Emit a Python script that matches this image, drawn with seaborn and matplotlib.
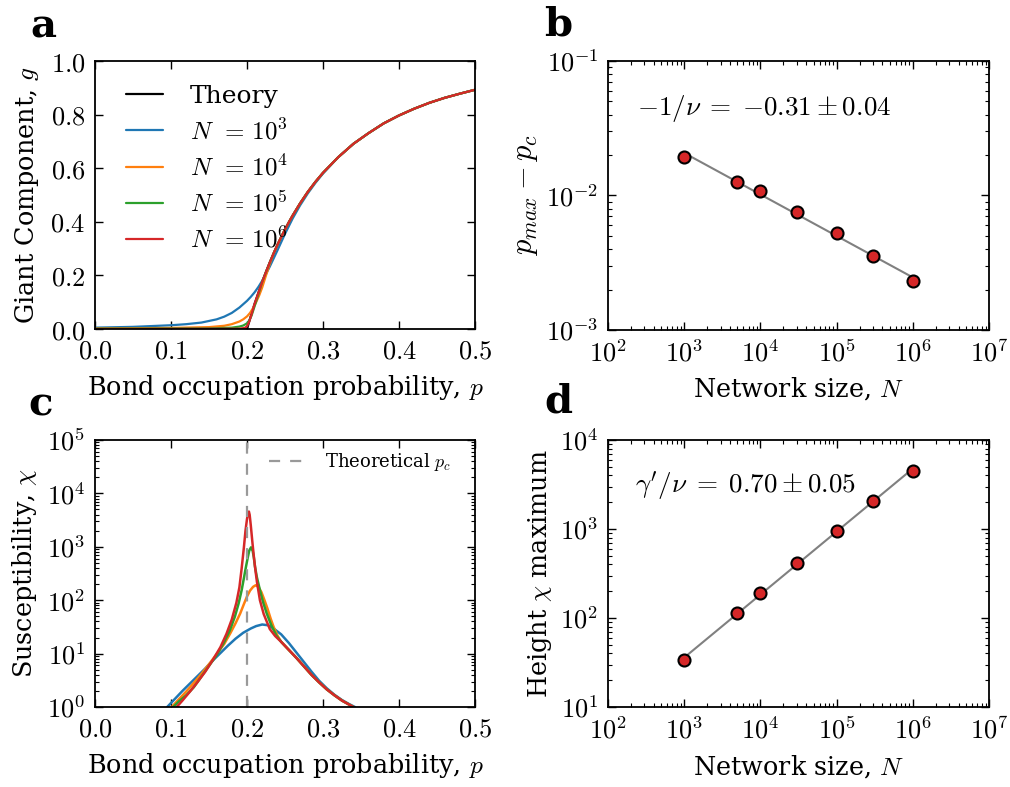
import numpy as np
import pandas as pd
import seaborn as sns
import matplotlib
matplotlib.use("Agg")
import matplotlib.pyplot as plt
from matplotlib.ticker import FuncFormatter, LogLocator, MultipleLocator, NullFormatter

# ---------------- data ----------------
# panel a: giant component
p_theory = [0.0, 0.20, 0.205, 0.21, 0.215, 0.22, 0.225, 0.23, 0.235, 0.24, 0.245, 0.25, 0.255,
            0.26, 0.27, 0.28, 0.29, 0.30, 0.32, 0.34, 0.36, 0.38, 0.40, 0.42, 0.44, 0.46, 0.48, 0.50]
g_theory = [0.0, 0.0, 0.048, 0.094, 0.135, 0.176, 0.213, 0.2485, 0.282, 0.3137, 0.343, 0.371, 0.398,
            0.423, 0.4695, 0.5116, 0.549, 0.5828, 0.641, 0.691, 0.731, 0.7675, 0.7968, 0.822, 0.844,
            0.8625, 0.878, 0.8926]

p_n3 = [0.0, 0.05, 0.10, 0.12, 0.14, 0.16, 0.17, 0.18, 0.19, 0.20, 0.205, 0.21, 0.215, 0.22,
        0.225, 0.23, 0.24, 0.25, 0.26, 0.27, 0.28, 0.29, 0.30]
g_n3 = [0.005, 0.008, 0.014, 0.018, 0.024, 0.036, 0.046, 0.06, 0.08, 0.105, 0.12, 0.137, 0.157, 0.18,
        0.205, 0.233, 0.293, 0.355, 0.412, 0.462, 0.506, 0.545, 0.58]
p_n4 = [0.0, 0.10, 0.15, 0.17, 0.18, 0.19, 0.195, 0.20, 0.204, 0.208, 0.212, 0.216, 0.22, 0.225, 0.23]
g_n4 = [0.002, 0.004, 0.007, 0.012, 0.018, 0.028, 0.036, 0.047, 0.06, 0.078, 0.10, 0.125, 0.155, 0.20, 0.243]
p_n5 = [0.0, 0.15, 0.18, 0.19, 0.195, 0.20, 0.203, 0.206, 0.21, 0.215]
g_n5 = [0.001, 0.002, 0.005, 0.009, 0.013, 0.021, 0.032, 0.05, 0.085, 0.13]
p_n6 = [0.0, 0.19, 0.197, 0.20, 0.203, 0.206]
g_n6 = [0.0, 0.001, 0.004, 0.01, 0.028, 0.055]

size_labels = [r"$N\;\,=\,10^3$", r"$N\;\,=\,10^4$", r"$N\;\,=\,10^5$", r"$N\;\,=\,10^6$"]
colors = ["#1f77b4", "#ff7f0e", "#2ca02c", "#d62728"]

# panel c: susceptibility, log10(chi)
pc_n3 = [0.095, 0.105, 0.115, 0.125, 0.135, 0.145, 0.155, 0.165, 0.175, 0.185, 0.195, 0.205, 0.212,
         0.22, 0.228, 0.235, 0.245, 0.255, 0.265, 0.275, 0.285, 0.295, 0.305, 0.315, 0.325, 0.335, 0.342]
lc_n3 = [0.0, 0.15, 0.30, 0.44, 0.58, 0.72, 0.87, 1.01, 1.15, 1.28, 1.39, 1.47, 1.515,
         1.545, 1.53, 1.47, 1.36, 1.20, 1.02, 0.84, 0.66, 0.49, 0.35, 0.23, 0.13, 0.05, 0.0]
pc_n4 = [0.101, 0.11, 0.12, 0.13, 0.14, 0.151, 0.16, 0.17, 0.178, 0.185, 0.191, 0.196, 0.20, 0.204,
         0.208, 0.2114, 0.215, 0.219, 0.223, 0.227, 0.231, 0.235, 0.24]
lc_n4 = [0.0, 0.14, 0.29, 0.45, 0.62, 0.82, 0.99, 1.18, 1.38, 1.57, 1.75, 1.93, 2.07, 2.18,
         2.25, 2.28, 2.25, 2.15, 2.0, 1.84, 1.66, 1.50, 1.34]
pc_n5 = [0.103, 0.11, 0.12, 0.13, 0.14, 0.15, 0.16, 0.169, 0.177, 0.184, 0.189, 0.193, 0.196, 0.1987,
         0.201, 0.203, 0.2053, 0.2075, 0.209, 0.2105, 0.213, 0.217, 0.221, 0.226, 0.232, 0.239]
lc_n5 = [0.0, 0.10, 0.22, 0.37, 0.57, 0.77, 0.97, 1.19, 1.42, 1.69, 1.94, 2.19, 2.42, 2.63,
         2.80, 2.93, 2.99, 2.92, 2.80, 2.63, 2.43, 2.19, 1.97, 1.75, 1.53, 1.33]
pc_n6 = [0.1075, 0.115, 0.125, 0.135, 0.145, 0.155, 0.165, 0.173, 0.18, 0.186, 0.19, 0.193, 0.196,
         0.198, 0.20, 0.2015, 0.2025, 0.2035, 0.205, 0.207, 0.209, 0.2105, 0.213, 0.217, 0.222,
         0.23, 0.237]
lc_n6 = [0.0, 0.12, 0.29, 0.47, 0.66, 0.88, 1.12, 1.37, 1.64, 1.95, 2.24, 2.60, 3.0,
         3.3, 3.52, 3.64, 3.66, 3.60, 3.40, 3.10, 2.82, 2.63, 2.35, 2.0, 1.74,
         1.46, 1.33]
# shared high-p tail of the three largest sizes
pc_tail = [0.245, 0.255, 0.265, 0.275, 0.285, 0.295, 0.305, 0.315, 0.325, 0.335, 0.340]
lc_tail = [1.22, 1.07, 0.92, 0.76, 0.60, 0.46, 0.33, 0.22, 0.12, 0.04, 0.0]
p_c_theory = 0.2

# panels b, d: finite-size scaling
N_sizes = [1e3, 5e3, 1e4, 3e4, 1e5, 3e5, 1e6]
dp_max = [0.0192, 0.0127, 0.0108, 0.0075, 0.00523, 0.00355, 0.00231]
chi_max = [34, 113, 190, 410, 955, 2060, 4520]

# ---------------- style ----------------
sns.set_style("ticks")
plt.rcParams["font.family"] = "serif"
plt.rcParams["font.serif"] = ["DejaVu Serif"]
plt.rcParams["mathtext.fontset"] = "cm"
plt.rcParams.update({
    "text.color": "black", "axes.labelcolor": "black",
    "xtick.direction": "in", "ytick.direction": "in",
    "xtick.top": True, "ytick.right": True,
    "xtick.major.size": 5.5, "ytick.major.size": 5.5,
    "xtick.minor.size": 2.8, "ytick.minor.size": 2.8,
    "xtick.major.width": 1.0, "ytick.major.width": 1.0,
    "xtick.minor.width": 0.8, "ytick.minor.width": 0.8,
    "axes.linewidth": 1.3, "axes.edgecolor": "black",
    "xtick.color": "black", "ytick.color": "black",
    "xtick.labelsize": 19, "ytick.labelsize": 19,
    "axes.labelsize": 18.4,
})

fig = plt.figure(figsize=(10.1, 7.87), dpi=100)
W, H = 1010, 787
def box(x0, x1, y0, y1):
    return [x0 / W, 1 - y1 / H, (x1 - x0) / W, (y1 - y0) / H]

ax_a = fig.add_axes(box(95, 475, 61, 329))
ax_b = fig.add_axes(box(608, 989, 61, 330))
ax_c = fig.add_axes(box(95, 475, 440, 707))
ax_d = fig.add_axes(box(608, 989, 440, 707))

lin_fmt = FuncFormatter(lambda v, _: r"$%.1f$" % v)
log_fmt = FuncFormatter(lambda v, _: r"$10^{%d}$" % int(round(np.log10(v))))

# ---------------- panel a ----------------
theory_df = pd.DataFrame({"p": p_theory, "g": g_theory})
sns.lineplot(data=theory_df, x="p", y="g", color="black", lw=1.6, ax=ax_a, label="Theory")
for p_low, g_low, lab, col in zip([p_n3, p_n4, p_n5, p_n6], [g_n3, g_n4, g_n5, g_n6], size_labels, colors):
    tail = [(pp, gg) for pp, gg in zip(p_theory, g_theory) if pp > max(p_low) + 1e-9]
    df = pd.DataFrame({"p": list(p_low) + [t[0] for t in tail],
                       "g": list(g_low) + [t[1] for t in tail]})
    sns.lineplot(data=df, x="p", y="g", color=col, lw=1.6, ax=ax_a, label=lab)
ax_a.set_xlim(0, 0.5)
ax_a.set_ylim(0, 1.0)
ax_a.xaxis.set_major_locator(MultipleLocator(0.1))
ax_a.yaxis.set_major_locator(MultipleLocator(0.2))
ax_a.xaxis.set_major_formatter(lin_fmt)
ax_a.yaxis.set_major_formatter(lin_fmt)
ax_a.set_xlabel(r"Bond occupation probability, $p$", labelpad=7)
ax_a.set_ylabel(r"Giant Component, $g$", labelpad=7)
ax_a.legend(loc="upper left", frameon=False, fontsize=18, handlelength=1.5,
            handletextpad=1.05, labelspacing=0.42, borderaxespad=0.0, bbox_to_anchor=(0.055, 0.948))

# ---------------- panel b ----------------
bdf = pd.DataFrame({"N": N_sizes, "dp": dp_max})
coef_b = np.polyfit(np.log10(N_sizes), np.log10(dp_max), 1)
fit_b = pd.DataFrame({"N": [N_sizes[0], N_sizes[-1]],
                      "dp": [10 ** np.polyval(coef_b, np.log10(N_sizes[0])),
                             10 ** np.polyval(coef_b, np.log10(N_sizes[-1]))]})
sns.lineplot(data=fit_b, x="N", y="dp", color="#808080", lw=1.5, ax=ax_b)
sns.scatterplot(data=bdf, x="N", y="dp", color="#d62728", edgecolor="black", linewidth=1.5,
                s=75, ax=ax_b, zorder=3)
ax_b.set_xscale("log")
ax_b.set_yscale("log")
ax_b.set_xlim(1e2, 1e7)
ax_b.set_ylim(1e-3, 1e-1)
ax_b.set_xlabel(r"Network size, $N$", labelpad=6)
ax_b.set_ylabel(r"$p_{max} - p_c$", fontsize=22)
ax_b.text(0.075, 0.825, r"$-1/\nu\;=\;{-0.31}\pm0.04$", transform=ax_b.transAxes,
          fontsize=19.5, va="center", ha="left")

# ---------------- panel c ----------------
for pcs, lcs, col in zip([pc_n3, pc_n4, pc_n5, pc_n6], [lc_n3, lc_n4, lc_n5, lc_n6], colors):
    if col != colors[0]:
        pcs = list(pcs) + pc_tail
        lcs = list(lcs) + lc_tail
    df = pd.DataFrame({"p": pcs, "chi": 10 ** np.array(lcs)})
    sns.lineplot(data=df, x="p", y="chi", color=col, lw=1.8, ax=ax_c)
ax_c.axvline(p_c_theory, color="#999999", lw=1.6, ls=(0, (5, 4.5)), label=r"Theoretical $p_c$")
ax_c.set_yscale("log")
ax_c.set_xlim(0, 0.5)
ax_c.set_ylim(1, 1e5)
ax_c.xaxis.set_major_locator(MultipleLocator(0.1))
ax_c.xaxis.set_major_formatter(lin_fmt)
ax_c.set_xlabel(r"Bond occupation probability, $p$", labelpad=7)
ax_c.set_ylabel(r"Susceptibility, $\chi$", labelpad=6)
ax_c.legend(loc="upper right", frameon=False, fontsize=13, handlelength=1.8, handletextpad=1.25,
            borderaxespad=0.0, bbox_to_anchor=(0.955, 0.985))

# ---------------- panel d ----------------
ddf = pd.DataFrame({"N": N_sizes, "chi": chi_max})
coef_d = np.polyfit(np.log10(N_sizes), np.log10(chi_max), 1)
fit_d = pd.DataFrame({"N": [N_sizes[0], N_sizes[-1]],
                      "chi": [10 ** np.polyval(coef_d, np.log10(N_sizes[0])),
                              10 ** np.polyval(coef_d, np.log10(N_sizes[-1]))]})
sns.lineplot(data=fit_d, x="N", y="chi", color="#808080", lw=1.5, ax=ax_d)
sns.scatterplot(data=ddf, x="N", y="chi", color="#d62728", edgecolor="black", linewidth=1.5,
                s=75, ax=ax_d, zorder=3)
ax_d.set_xscale("log")
ax_d.set_yscale("log")
ax_d.set_xlim(1e2, 1e7)
ax_d.set_ylim(10, 1e4)
ax_d.set_xlabel(r"Network size, $N$", labelpad=7)
ax_d.set_ylabel(r"Height $\chi$ maximum")
ax_d.text(0.07, 0.83, r"$\gamma'/\nu\;=\;0.70\pm0.05$", transform=ax_d.transAxes,
          fontsize=19.5, va="center", ha="left")

for ax in [ax_b, ax_c, ax_d]:
    if ax.get_xscale() == "log":
        ax.xaxis.set_major_locator(LogLocator(base=10, numticks=10))
        ax.xaxis.set_minor_locator(LogLocator(base=10, subs=np.arange(2, 10), numticks=20))
        ax.xaxis.set_major_formatter(log_fmt)
        ax.xaxis.set_minor_formatter(NullFormatter())
    ax.yaxis.set_major_locator(LogLocator(base=10, numticks=10))
    ax.yaxis.set_minor_locator(LogLocator(base=10, subs=np.arange(2, 10), numticks=20))
    ax.yaxis.set_major_formatter(log_fmt)
    ax.yaxis.set_minor_formatter(NullFormatter())

for ax in [ax_a, ax_b, ax_c, ax_d]:
    for s in ax.spines.values():
        s.set_visible(True)
        s.set_linewidth(1.3)
    ax.tick_params(which="both", direction="in", top=True, right=True)
    ax.tick_params(which="major", pad=7)

for lab, (x, y) in zip("abcd", [(43, 8), (558, 5), (41, 385), (558, 383)]):
    fig.text(x / W, 1 - y / H, lab, fontsize=29, fontweight="bold", ha="center", va="top")

fig.savefig("out.png", dpi=100)
